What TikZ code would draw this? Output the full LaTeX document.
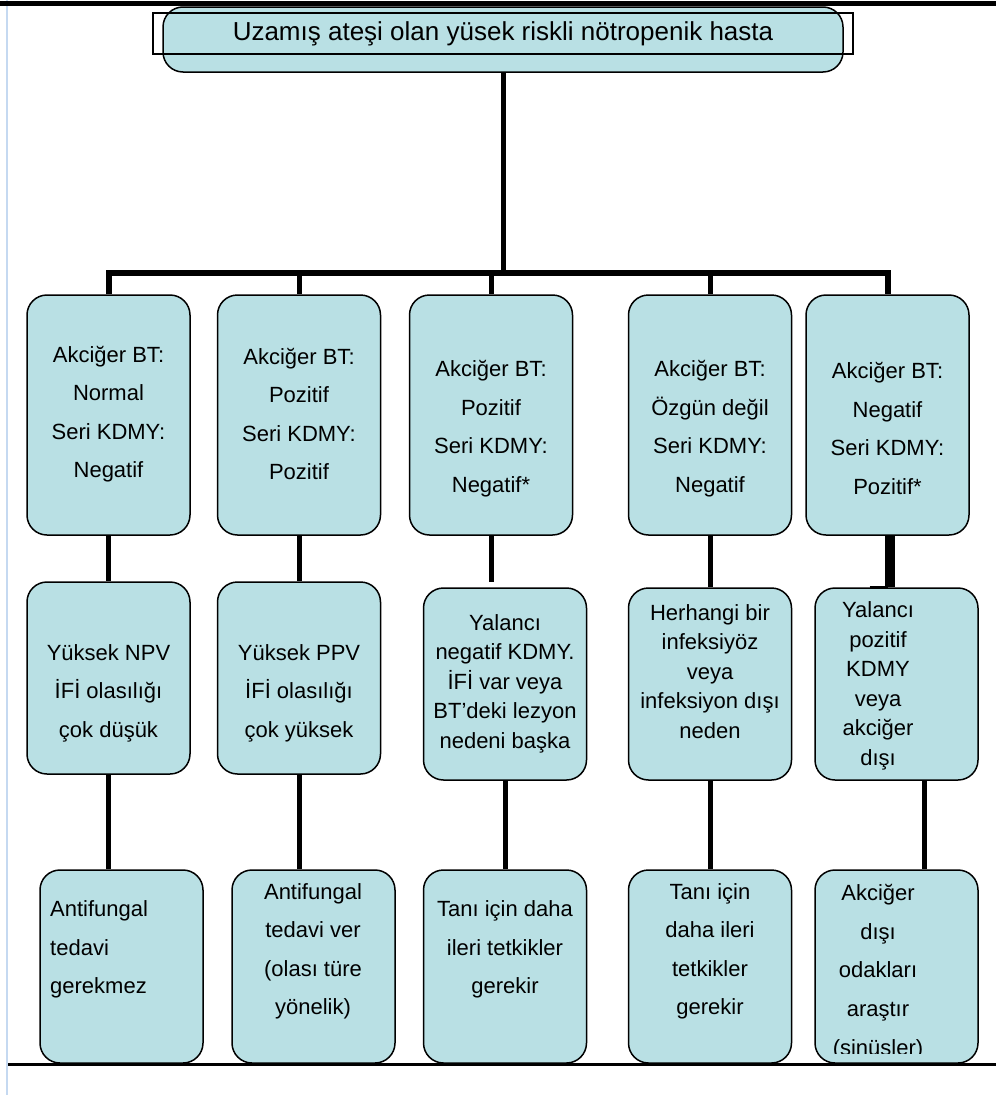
\documentclass[tikz,border=0pt]{standalone}
\usepackage{fontspec}
\setmainfont{Liberation Sans}
\usetikzlibrary{positioning, calc}
\definecolor{boxfill}{RGB}{185,224,228}
\definecolor{edgeblue}{RGB}{197,217,241}
\tikzstyle{box}=[draw=black, line width=1.5pt, fill=boxfill, rounded corners=20pt, inner sep=0pt]
\tikzstyle{box a}=[box, minimum width=163pt, minimum height=240pt]
\tikzstyle{box b}=[box, minimum width=163pt, minimum height=192pt]
\tikzstyle{box c}=[box, minimum width=163pt, minimum height=193pt]
\tikzstyle{txt}=[align=center, inner sep=0pt, font=\fontsize{22}{38.5}\selectfont]
\tikzstyle{tight}=[txt, font=\fontsize{22}{29.5}\selectfont]
\tikzstyle{link}=[line width=5pt]

\begin{document}
\begin{tikzpicture}[x=1pt, y=-1pt]
	\useasboundingbox (0,0) rectangle (996,1095);

	% Frame lines
	\draw[edgeblue, line width=2pt] (7,0) -- (7,1095);
	\draw[line width=5pt] (0,3) -- (996,3);

	% Draw the top box
	\node[box, minimum width=680pt, minimum height=65pt] (top) at (503,39.5) {};
	\node[draw=black, line width=1.5pt, minimum width=700pt, minimum height=41pt, inner sep=0pt,
		font=\fontsize{26}{30}\selectfont] (title) at (503,33.5) {Uzamış ateşi olan yüsek riskli nötropenik hasta};

	% Draw the first row
	\node[box a] (r1c1) at (108.5,415) {};
	\node[box a] (r1c2) at (299,415) {};
	\node[box a] (r1c3) at (491,415) {};
	\node[box a] (r1c4) at (710,415) {};
	\node[box a] (r1c5) at (887.5,415) {};
	\node[txt] (t1c1) at (108.5,414) {Akciğer BT:\\Normal\\Seri KDMY:\\Negatif};
	\node[txt] (t1c2) at (299,414) {Akciğer BT:\\Pozitif\\Seri KDMY:\\Pozitif};
	\node[txt] (t1c3) at (491,428.5) {Akciğer BT:\\Pozitif\\Seri KDMY:\\Negatif*};
	\node[txt] (t1c4) at (710,428.5) {Akciğer BT:\\Özgün değil\\Seri KDMY:\\Negatif};
	\node[txt] (t1c5) at (887.5,428.5) {Akciğer BT:\\Negatif\\Seri KDMY:\\Pozitif*};

	% Draw the second row
	\node[box b] (r2c1) at (108.5,678) {};
	\node[box b] (r2c2) at (299,678) {};
	\node[box b] (r2c3) at (505,684) {};
	\node[box b] (r2c4) at (710,684) {};
	\node[box b] (r2c5) at (896.5,684) {};
	\node[txt] (t2c1) at (108.5,693) {Yüksek NPV\\İFİ olasılığı\\çok düşük};
	\node[txt] (t2c2) at (299,693) {Yüksek PPV\\İFİ olasılığı\\çok yüksek};
	\node[tight] (t2c3) at (505,683.5) {Yalancı\\negatif KDMY.\\İFİ var veya\\BT’deki lezyon\\nedeni başka};
	\node[tight] (t2c4) at (710,671.5) {Herhangi bir\\infeksiyöz\\veya\\infeksiyon dışı\\neden};
	\node[tight] (t2c5) at (878,686) {Yalancı\\pozitif\\KDMY\\veya\\akciğer\\dışı};

	% Draw the third row
	\node[box c] (r3c1) at (121.5,966.5) {};
	\node[box c] (r3c2) at (313.5,966.5) {};
	\node[box c] (r3c3) at (505,966.5) {};
	\node[box c] (r3c4) at (710,966.5) {};
	\node[box c] (r3c5) at (896.5,966.5) {};
	\node[txt, align=left, anchor=west] (t3c1) at (50,949.5) {Antifungal\\tedavi\\gerekmez};
	\node[txt] (t3c2) at (313,951.5) {Antifungal\\tedavi ver\\(olası türe\\yönelik)};
	\node[txt] (t3c3) at (505,949.5) {Tanı için daha\\ileri tetkikler\\gerekir};
	\node[txt] (t3c4) at (710,951.5) {Tanı için\\daha ileri\\tetkikler\\gerekir};
	\begin{scope}
		\clip (815,870) rectangle (978,1053);
		\node[txt, font=\fontsize{22}{38.75}\selectfont] (t3c5) at (878,972) {Akciğer\\dışı\\odakları\\araştır\\(sinüsler)};
	\end{scope}

	% Connect the top box with the first row
	\coordinate (bus) at (503,273);
	\draw[link] (top.south) -- (top.south |- bus);
	\draw[link, line width=6pt] (r1c1.north) -- (r1c1.north |- bus) -- (r1c5.north |- bus) -- (r1c5.north);
	\foreach \c in {2,3,4}
	\draw[link] (r1c\c.north |- bus) -- (r1c\c.north);

	% Connect the first row with the second row
	\coordinate (e3) at (491,582);
	\draw[link] (r1c1.south) -- (r2c1.north);
	\draw[link] (r1c2.south) -- (r2c2.north);
	\draw[link] (r1c3.south) -- (e3);
	\draw[link] (r1c4.south) -- (r2c4.north);
	\draw[link, line width=10pt] ([xshift=2.5pt]r1c5.south) -- ([xshift=2.5pt]r1c5.south |- r2c5.north);
	\draw[line width=2pt] ([xshift=-18pt]r1c5.south |- r2c5.north) -- (r1c5.south |- r2c5.north);

	% Connect the second row with the third row
	\foreach \c/\dx in {1/0,2/0,3/0,4/0,5/27.5}
	\draw[link] ([xshift=\dx pt]r2c\c.south) -- ([xshift=\dx pt]r2c\c.south |- r3c\c.north);

	% Bottom line
	\draw[line width=3pt] (8,1064) -- (996,1064);
\end{tikzpicture}
\end{document}
